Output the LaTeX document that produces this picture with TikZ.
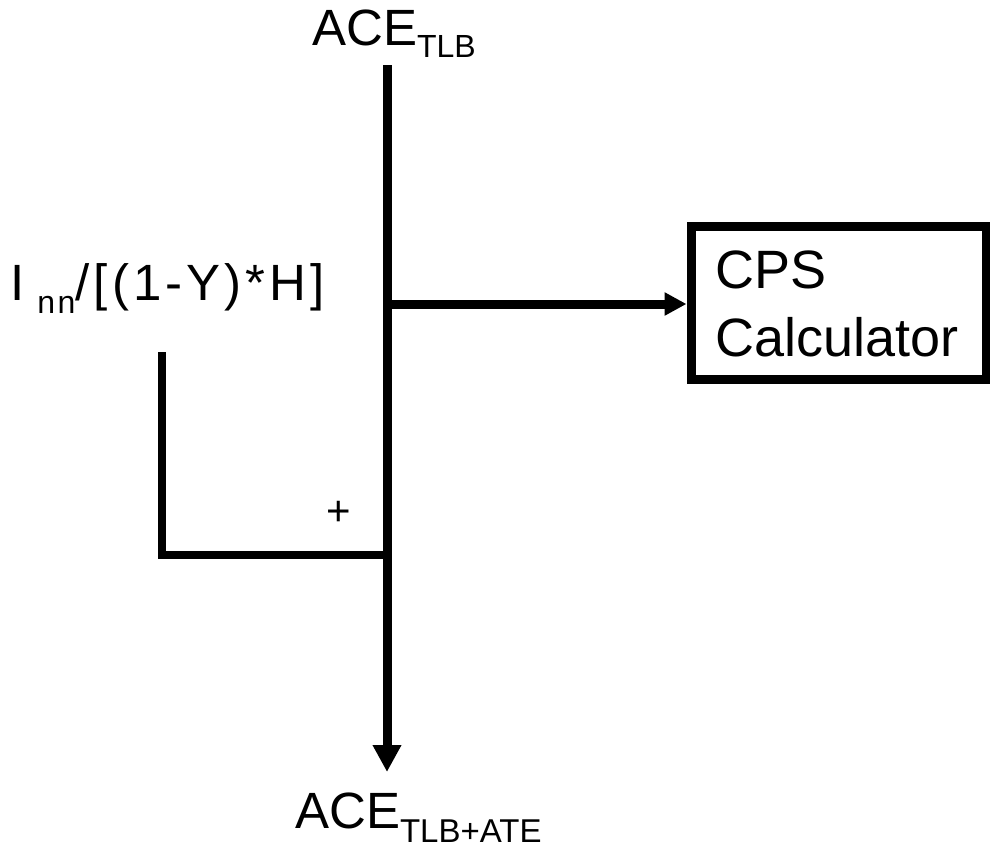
\documentclass[tikz,border=0pt]{standalone}
\usepackage{fontspec}
\setmainfont{Liberation Sans}
\usetikzlibrary{arrows.meta}
\newcommand{\fsz}[1]{\fontsize{#1}{#1}\selectfont}
\begin{document}
\begin{tikzpicture}[x=1pt,y=-1pt,
  wire/.style={line width=9pt,line cap=butt},
  label/.style={inner sep=0pt,anchor=base west},
  block/.style={draw,line width=9pt,minimum width=295pt,minimum height=153pt,inner sep=0pt}]
\useasboundingbox (0,0) rectangle (990,846);

% signal labels
\node[label] (top) at (312,45) {\fsz{51}ACE\raisebox{-12pt}{\fsz{32}TLB}};
\node[label] (bot) at (295,828) {\fsz{51}ACE\raisebox{-14pt}{\fsz{33}TLB+ATE}};
\node[label] (inp) at (10,300) {\addfontfeature{LetterSpace=8}\fsz{51}I\hspace{13pt}\raisebox{-13pt}{\fsz{32}nn}/[(1-Y)*H]};
\node[label] (plus) at (326,525) {\fsz{42}+};

% calculator block
\node[block] (cps) at (838.5,302.5) {};
\node[label] (cpstxt) at (715,288) {\fsz{54}CPS};
\node[label] (caltxt) at (715,356) {\fsz{54}Calculator};

% junction points on the main line
\coordinate (vtop) at (387,65);
\coordinate (jcps) at (387,304);
\coordinate (jsum) at (387,555);
\coordinate (vbot) at (387,772);
\coordinate (ltop) at (162,352);
\coordinate (lcorner) at (162,555);

\draw[wire,-{Triangle[length=27pt,width=27pt]}] (vtop) -- (vbot);
\draw[wire,-{Triangle[length=22pt,width=22pt]}] (jcps) -- (jcps -| cps.west);
\draw[wire,line width=8.5pt,line join=miter] (ltop) -- (lcorner) -- (jsum);
\end{tikzpicture}
\end{document}
